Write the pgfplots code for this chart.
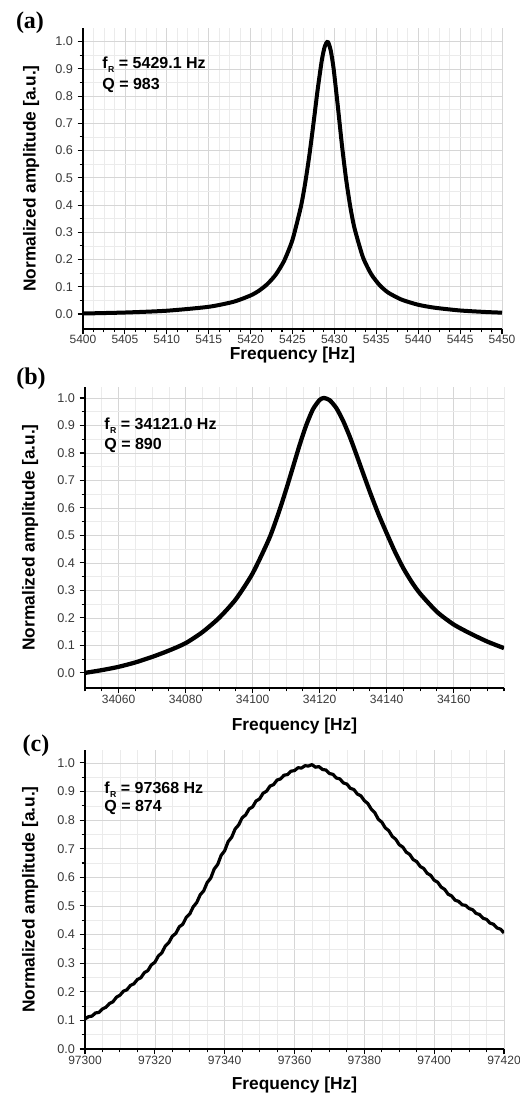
\documentclass[border=0pt]{standalone}
\usepackage{fontspec}
\setmainfont{Liberation Sans}
\newfontfamily\serifbf{Liberation Serif}
\usepackage{pgfplots}
\pgfplotsset{compat=1.18}

\pgfplotsset{
  myaxis/.style={
    scale only axis,
    width=314.25pt,
    axis lines=left,
    axis line style={-, line width=1.1pt, black},
    tick align=outside,
    major tick length=4pt,
    minor tick length=2.5pt,
    every tick/.style={black, line width=0.8pt},
    grid=both,
    major grid style={black!16, line width=0.5pt},
    minor grid style={black!8, line width=0.4pt},
    ytick={0,0.1,0.2,0.3,0.4,0.5,0.6,0.7,0.8,0.9,1.0},
    minor y tick num=1,
    scaled x ticks=false,
    /pgf/number format/assume math mode=true,
    /pgf/number format/1000 sep={},
    yticklabel style={/pgf/number format/fixed, /pgf/number format/fixed zerofill, /pgf/number format/precision=1, font=\fontsize{9.5}{10}\selectfont, text=black!78},
    xticklabel style={/pgf/number format/fixed, /pgf/number format/precision=0, font=\fontsize{9}{9}\selectfont, text=black!78, inner sep=1.5pt},
    xlabel={Frequency [Hz]},
    ylabel={Normalized amplitude [a.u.]},
    label style={font=\fontsize{13}{14}\selectfont\bfseries, inner sep=1pt},
    clip=true,
  },
}
\tikzset{ann/.style={anchor=base west, font=\fontsize{12}{12}\selectfont\bfseries}}
\newcommand{\fR}{f\kern0.4pt\raisebox{-0.5ex}{\fontsize{6.5}{6.5}\selectfont R}}

\begin{document}
\begin{tikzpicture}
\useasboundingbox (0pt,0pt) rectangle (389.25pt,-827.25pt);

% ---------------- (a) ----------------
\begin{axis}[myaxis,
  at={(62.25pt,-246.75pt)}, anchor=south west,
  height=225.75pt,
  xmin=5400, xmax=5450, ymin=-0.055, ymax=1.05,
  xtick={5400,5405,5410,5415,5420,5425,5430,5435,5440,5445,5450},
  minor xtick={5401.25,5402.5,5403.75,5406.25,5407.5,5408.75,5411.25,5412.5,5413.75,5416.25,5417.5,5418.75,5421.25,5422.5,5423.75,5426.25,5427.5,5428.75,5431.25,5432.5,5433.75,5436.25,5437.5,5438.75,5441.25,5442.5,5443.75,5446.25,5447.5,5448.75},
  xticklabel style={yshift=1pt},
  xlabel style={at={(axis description cs:0.5,-0.088)}, anchor=center},
  ylabel style={at={(axis description cs:-0.124,0.5)}, anchor=center},
]
\addplot[black, line width=3pt, smooth, tension=0.4, line join=round] coordinates {
(5400,0.0019) (5405,0.0055) (5410,0.0121) (5415,0.0265) (5418,0.0453)
(5420,0.0682) (5421,0.0856) (5422,0.1100) (5423,0.1445) (5424,0.1952)
(5425,0.2727) (5426,0.3940) (5426.5,0.4781) (5427,0.5802) (5427.5,0.6987)
(5428,0.8233) (5428.5,0.9320) (5428.85,0.982) (5429.2,1.0)
(5429.55,0.969) (5429.9,0.902) (5430.4,0.765) (5430.9,0.620) (5431.4,0.494)
(5431.9,0.393) (5432.4,0.315) (5433.4,0.209) (5434.4,0.146) (5435.4,0.106)
(5436.4,0.079) (5438,0.053) (5440,0.034) (5442,0.023) (5445,0.013)
(5448,0.0075) (5450,0.005)
};
\node[ann] at (rel axis cs:0.035,0.867) {\fR{} = 5429.1 Hz};
\node[ann] at (rel axis cs:0.035,0.797) {Q = 983};
\end{axis}

% ---------------- (b) ----------------
\begin{axis}[myaxis,
  at={(63.75pt,-516pt)}, anchor=south west,
  height=225.75pt,
  xmin=34050, xmax=34175, ymin=-0.055, ymax=1.04,
  xtick={34060,34080,34100,34120,34140,34160},
  minor xtick={34050,34055,34065,34070,34075,34085,34090,34095,34105,34110,34115,34125,34130,34135,34145,34150,34155,34165,34170,34175},
  xlabel style={at={(axis description cs:0.5,-0.125)}, anchor=center},
  ylabel style={at={(axis description cs:-0.131,0.5)}, anchor=center},
]
\addplot[black, line width=3.2pt, smooth, tension=0.4, line join=round] coordinates {
(34050,0.000) (34055,0.010) (34060,0.022) (34065,0.038) (34070,0.058)
(34075,0.081) (34080,0.108) (34085,0.148) (34090,0.200) (34095,0.268)
(34100,0.362) (34105,0.490) (34108,0.591) (34110,0.667) (34112,0.747)
(34114,0.828) (34116,0.901) (34118,0.959) (34120,0.993) (34121.3,1.000)
(34123,0.992) (34125,0.963) (34127,0.917) (34129,0.859) (34131,0.793)
(34133,0.725) (34135,0.658) (34137.5,0.579) (34140,0.508) (34142.5,0.440)
(34145,0.380) (34147.5,0.330) (34150,0.288) (34155,0.222) (34160,0.176)
(34165,0.143) (34170,0.114) (34175,0.090)
};
\node[ann] at (rel axis cs:0.035,0.860) {\fR{} = 34121.0 Hz};
\node[ann] at (rel axis cs:0.035,0.794) {Q = 890};
\end{axis}

% ---------------- (c) ----------------
\begin{axis}[myaxis,
  at={(63.75pt,-786.75pt)}, anchor=south west,
  height=224.25pt,
  xmin=97300, xmax=97420, ymin=0, ymax=1.045,
  xtick={97300,97320,97340,97360,97380,97400,97420},
  minor xtick={97305,97310,97315,97325,97330,97335,97345,97350,97355,97365,97370,97375,97385,97390,97395,97405,97410,97415},
  xlabel style={at={(axis description cs:0.5,-0.12)}, anchor=center},
  ylabel style={at={(axis description cs:-0.131,0.5)}, anchor=center},
]
\addplot[black, line width=2.4pt, line join=round] coordinates {
(97300,0.105) (97301,0.113) (97302,0.115) (97303,0.126) (97304,0.128)
(97305,0.140) (97306,0.146) (97307,0.159) (97308,0.165) (97309,0.181)
(97310,0.188) (97311,0.202) (97312,0.207) (97313,0.222) (97314,0.228)
(97315,0.243) (97316,0.249) (97317,0.267) (97318,0.274) (97319,0.294)
(97320,0.303) (97321,0.325) (97322,0.336) (97323,0.360) (97324,0.372)
(97325,0.394) (97326,0.404) (97327,0.427) (97328,0.436) (97329,0.460)
(97330,0.472) (97331,0.497) (97332,0.512) (97333,0.539) (97334,0.553)
(97335,0.582) (97336,0.597) (97337,0.629) (97338,0.645) (97339,0.677)
(97340,0.693) (97341,0.725) (97342,0.740) (97343,0.769) (97344,0.783)
(97345,0.808) (97346,0.818) (97347,0.839) (97348,0.846) (97349,0.867)
(97350,0.874) (97351,0.894) (97352,0.901) (97353,0.919) (97354,0.924)
(97355,0.940) (97356,0.944) (97357,0.957) (97358,0.959) (97359,0.971)
(97360,0.973) (97361,0.983) (97362,0.982) (97363,0.990) (97364,0.989)
(97365,0.994) (97366,0.985) (97367,0.987) (97368,0.977) (97369,0.975)
(97370,0.963) (97371,0.960) (97372,0.947) (97373,0.944) (97374,0.930)
(97375,0.926) (97376,0.911) (97377,0.907) (97378,0.891) (97379,0.885)
(97380,0.868) (97381,0.858) (97382,0.838) (97383,0.826) (97384,0.803)
(97385,0.793) (97386,0.773) (97387,0.763) (97388,0.743) (97389,0.733)
(97390,0.714) (97391,0.706) (97392,0.688) (97393,0.680) (97394,0.662)
(97395,0.655) (97396,0.638) (97397,0.631) (97398,0.614) (97399,0.607)
(97400,0.590) (97401,0.583) (97402,0.566) (97403,0.558) (97404,0.541)
(97405,0.535) (97406,0.520) (97407,0.516) (97408,0.504) (97409,0.502)
(97410,0.491) (97411,0.487) (97412,0.474) (97413,0.470) (97414,0.457)
(97415,0.453) (97416,0.440) (97417,0.436) (97418,0.423) (97419,0.419)
(97420,0.406)
};
\node[ann] at (rel axis cs:0.035,0.856) {\fR{} = 97368 Hz};
\node[ann] at (rel axis cs:0.035,0.793) {Q = 874};
\end{axis}

% panel letters
\node[font=\fontsize{18}{18}\selectfont\serifbf\bfseries] at (22.5pt,-17.25pt) {(a)};
\node[font=\fontsize{18}{18}\selectfont\serifbf\bfseries] at (23.25pt,-284.25pt) {(b)};
\node[font=\fontsize{18}{18}\selectfont\serifbf\bfseries] at (27pt,-559.5pt) {(c)};
\end{tikzpicture}
\end{document}
